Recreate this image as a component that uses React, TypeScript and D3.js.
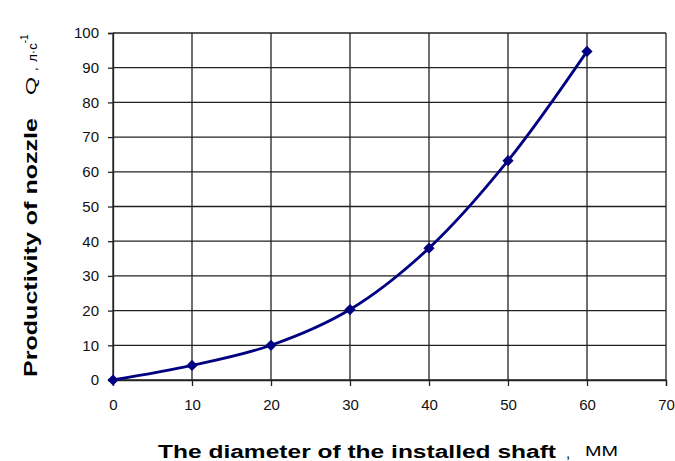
import React, { useEffect, useRef } from 'react';
import * as d3 from 'd3';

// shaft diameter, mm
const diameters = [0, 10, 20, 30, 40, 50, 60];
// nozzle productivity Q, l/s
const productivity = [0, 4.2, 10, 20.3, 38, 63.2, 94.7];

const xTicks = [0, 10, 20, 30, 40, 50, 60, 70];
const yTicks = [0, 10, 20, 30, 40, 50, 60, 70, 80, 90, 100];

const App: React.FC = () => {
  const svgRef = useRef<SVGSVGElement>(null);

  useEffect(() => {
    if (!svgRef.current) return;
    const svg = d3.select(svgRef.current);
    svg.selectAll('*').remove();

    const left = 113, right = 666, top = 33, bottom = 380;
    const font = 'Liberation Sans, Arial, sans-serif';

    const x = d3.scaleLinear().domain([0, 70]).range([left, right]);
    const y = d3.scaleLinear().domain([0, 100]).range([bottom, top]);

    // grid
    svg.append('g')
      .selectAll('line')
      .data(xTicks)
      .enter()
      .append('line')
      .attr('x1', d => x(d)).attr('x2', d => x(d))
      .attr('y1', top).attr('y2', bottom)
      .attr('stroke', '#222').attr('stroke-width', 1.3);

    svg.append('g')
      .selectAll('line')
      .data(yTicks)
      .enter()
      .append('line')
      .attr('x1', left).attr('x2', right)
      .attr('y1', d => y(d)).attr('y2', d => y(d))
      .attr('stroke', '#222').attr('stroke-width', 1.3);

    // axes
    const xAxis = svg.append('g')
      .attr('transform', `translate(0,${bottom})`)
      .call(d3.axisBottom(x).tickValues(xTicks).tickSize(6).tickPadding(13));
    const yAxis = svg.append('g')
      .attr('transform', `translate(${left},0)`)
      .call(d3.axisLeft(y).tickValues(yTicks).tickSize(5).tickPadding(9));

    [xAxis, yAxis].forEach(a => {
      a.select('.domain').attr('stroke', '#222').attr('stroke-width', 1.3);
      a.selectAll('.tick line').attr('stroke', '#222').attr('stroke-width', 1.3);
      a.selectAll('.tick text')
        .attr('font-family', font)
        .attr('font-size', 15)
        .attr('fill', '#111');
    });

    // curve
    const pts = diameters.map((d, i) => [d, productivity[i]] as [number, number]);
    const line = d3.line<[number, number]>()
      .x(d => x(d[0]))
      .y(d => y(d[1]))
      .curve(d3.curveCatmullRom.alpha(0.5));

    svg.append('path')
      .datum(pts)
      .attr('d', line)
      .attr('fill', 'none')
      .attr('stroke', '#000080')
      .attr('stroke-width', 2.8);

    svg.append('g')
      .selectAll('path')
      .data(pts)
      .enter()
      .append('path')
      .attr('d', d3.symbol(d3.symbolDiamond2, 80)())
      .attr('transform', d => `translate(${x(d[0])},${y(d[1])})`)
      .attr('fill', '#000080');

    // x title (the source lettering is stretched wide)
    svg.append('text')
      .attr('x', 158).attr('y', 458)
      .attr('font-family', font).attr('font-size', 18).attr('font-weight', 'bold')
      .attr('textLength', 398).attr('lengthAdjust', 'spacingAndGlyphs')
      .text('The diameter of the installed shaft');
    svg.append('text')
      .attr('x', 566).attr('y', 458)
      .attr('font-family', font).attr('font-size', 15)
      .text(',');
    svg.append('text')
      .attr('x', 585).attr('y', 456)
      .attr('font-family', font).attr('font-size', 15)
      .attr('textLength', 33).attr('lengthAdjust', 'spacingAndGlyphs')
      .text('ММ');

    // y title
    const yt = svg.append('g').attr('transform', 'rotate(-90)').attr('font-family', font);
    yt.append('text')
      .attr('x', -377).attr('y', 37)
      .attr('font-size', 19).attr('font-weight', 'bold')
      .attr('textLength', 259).attr('lengthAdjust', 'spacingAndGlyphs')
      .text('Productivity of nozzle');
    yt.append('text')
      .attr('x', -95).attr('y', 36)
      .attr('font-size', 15)
      .attr('textLength', 18).attr('lengthAdjust', 'spacingAndGlyphs')
      .text('Q');
    const unit = yt.append('text')
      .attr('x', -71).attr('y', 37)
      .attr('font-size', 13);
    unit.append('tspan').text(', ');
    unit.append('tspan').attr('dx', 2).text('л·с');
    unit.append('tspan').attr('font-size', 10).attr('dy', -9).text('-1');
  }, []);

  return (
    <svg ref={svgRef} width={675} height={461}
      style={{ position: 'absolute', left: 0, top: 0, background: '#fff' }} />
  );
};

export default App;
